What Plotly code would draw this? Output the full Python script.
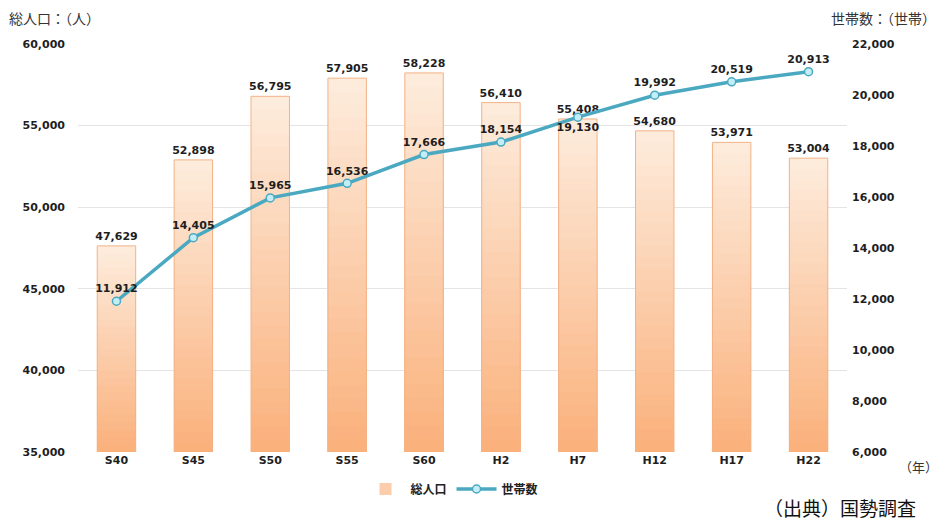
import plotly.graph_objects as go

# 国勢調査：総人口と世帯数の推移
years = ["S40", "S45", "S50", "S55", "S60", "H2", "H7", "H12", "H17", "H22"]
population = [47629, 52898, 56795, 57905, 58228, 56410, 55408, 54680, 53971, 53004]
households = [11912, 14405, 15965, 16536, 17666, 18154, 19130, 19992, 20519, 20913]

POP_MIN, POP_MAX = 35000, 60000
HH_MIN, HH_MAX = 6000, 22000

W, H = 944, 522
M_L, M_R, M_T, M_B = 78, 97, 44, 70
PW, PH = W - M_L - M_R, H - M_T - M_B


def px(x):
    return (x - M_L) / PW


def py(y):
    return (H - M_B - y) / PH


def mix(c1, c2, t):
    return "rgb({},{},{})".format(*[round(a + (b - a) * t) for a, b in zip(c1, c2)])


LIGHT = (253, 235, 220)
DARK = (250, 177, 124)
label_font = dict(family="DejaVu Sans", size=11, color="#1e1e1e", weight="bold")

fig = go.Figure()

# vertical gradient inside each bar: stacked overlays, shortest (darkest) on top
steps = 28
for k in range(steps):
    frac = 1 - k / steps
    fig.add_trace(go.Bar(
        x=years,
        y=[POP_MIN + (v - POP_MIN) * frac for v in population],
        width=0.5,
        marker=dict(color=mix(LIGHT, DARK, k / (steps - 1)), line=dict(width=0)),
        name="総人口",
        showlegend=(k == steps // 2),
        hoverinfo="skip",
    ))

# bar outline and value labels
fig.add_trace(go.Bar(
    x=years, y=population, width=0.5,
    marker=dict(color="rgba(0,0,0,0)", line=dict(color="#f3b287", width=1)),
    text=[f"{v:,}" for v in population], textposition="outside",
    constraintext="none",
    textfont=label_font, cliponaxis=False, showlegend=False, name="総人口",
))

text_pos = ["top center"] * len(years)
text_pos[years.index("H7")] = "bottom center"

fig.add_trace(go.Scatter(
    x=years, y=households, yaxis="y2", name="世帯数",
    mode="lines+markers+text",
    line=dict(color="#4aa9c0", width=3.5),
    marker=dict(size=8, color="#c4eef7", line=dict(color="#4aa9c0", width=1.5)),
    text=[f"{v:,}" for v in households], textposition=text_pos,
    textfont=label_font, cliponaxis=False,
))

tick_font = dict(family="DejaVu Sans", size=11, color="#1e1e1e", weight="bold")
cjk = "Noto Sans CJK JP"

fig.update_layout(
    width=W, height=H,
    margin=dict(l=M_L, r=M_R, t=M_T, b=M_B),
    paper_bgcolor="white", plot_bgcolor="white",
    barmode="overlay", bargap=0.5,
    xaxis=dict(tickfont=tick_font, showline=False, ticks="", showgrid=False,
               range=[-0.5, len(years) - 0.5], automargin=False),
    yaxis=dict(range=[POP_MIN, POP_MAX], dtick=5000, tickformat=",",
               tickfont=tick_font, gridcolor="#e4e4e4", gridwidth=1,
               zeroline=False, ticklabelstandoff=12, automargin=False),
    yaxis2=dict(range=[HH_MIN, HH_MAX], dtick=2000, tickformat=",",
                overlaying="y", side="right", showgrid=False,
                tickfont=tick_font, zeroline=False, ticklabelstandoff=4,
                automargin=False),
    legend=dict(orientation="h", x=px(452), xanchor="center", y=py(489),
                yanchor="middle", font=dict(family=cjk, size=12, color="#222", weight="bold"),
                itemwidth=40, tracegroupgap=0),
    showlegend=True,
    font=dict(family=cjk),
    annotations=[
        dict(text="総人口：（人）", x=px(7), y=py(18), xref="paper", yref="paper",
             xanchor="left", yanchor="middle", showarrow=False,
             font=dict(family=cjk, size=14, color="#333")),
        dict(text="世帯数：（世帯）", x=px(938), y=py(18), xref="paper", yref="paper",
             xanchor="right", yanchor="middle", showarrow=False,
             font=dict(family=cjk, size=14, color="#333")),
        dict(text="（年）", x=px(940), y=py(466), xref="paper", yref="paper",
             xanchor="right", yanchor="middle", showarrow=False,
             font=dict(family=cjk, size=13, color="#333")),
        dict(text="（出典）国勢調査", x=px(918), y=py(507), xref="paper", yref="paper",
             xanchor="right", yanchor="middle", showarrow=False,
             font=dict(family=cjk, size=19, color="#111")),
    ],
)

fig.write_html("out.html")
